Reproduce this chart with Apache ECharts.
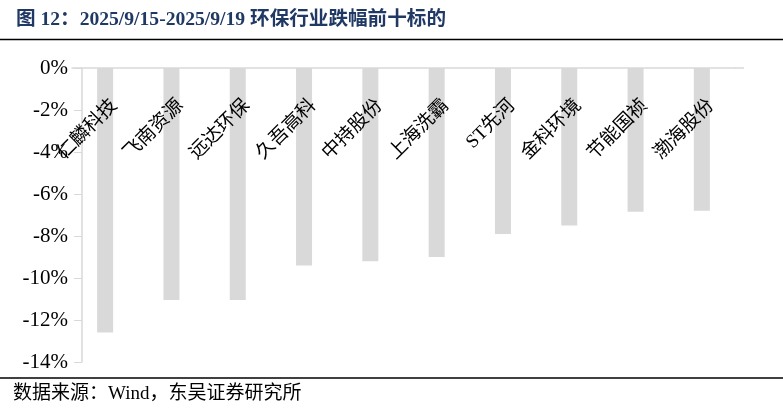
<!DOCTYPE html>
<html>
<head>
<meta charset="utf-8">
<script src="https://cdn.jsdelivr.net/npm/echarts@6/dist/echarts.min.js"></script>
<style>
html,body{margin:0;padding:0;background:#fff;}
#c{width:783px;height:411px;}
</style>
</head>
<body>
<div id="c"></div>
<script>
var categories = ['仁麟科技','飞南资源','远达环保','久吾高科','中持股份','上海洗霸','ST先河','金科环境','节能国祯','渤海股份'];
var changes = [-12.6, -11.05, -11.05, -9.4, -9.2, -9.0, -7.9, -7.5, -6.85, -6.8];
var yTicks = {min: -14, max: 0, interval: 2};
var titleText = '图 12：2025/9/15-2025/9/19 环保行业跌幅前十标的';
var sourceText = '数据来源：Wind，东吴证券研究所';

var serif = '"Liberation Serif", "Noto Sans CJK SC", serif';
var chart = echarts.init(document.getElementById('c'));
chart.setOption({
  animation: false,
  backgroundColor: '#fff',
  grid: {left: 72, right: 48, top: 68, bottom: 49, containLabel: false},
  graphic: [
    {type: 'text', left: 16, top: 10, style: {text: titleText, font: 'bold 19.6px ' + serif, fill: '#1f3864'}},
    {type: 'line', shape: {x1: 0, y1: 39.5, x2: 783, y2: 39.5}, style: {stroke: '#000', lineWidth: 1.5}},
    {type: 'line', shape: {x1: 0, y1: 378, x2: 783, y2: 378}, style: {stroke: '#000', lineWidth: 1.5}},
    {type: 'line', shape: {x1: 735, y1: 68, x2: 744, y2: 68}, style: {stroke: '#d9d9d9', lineWidth: 1.5}},
    {type: 'text', left: 13, top: 385, style: {text: sourceText, font: '19px ' + serif, fill: '#000'}}
  ],
  xAxis: {
    type: 'category',
    data: categories,
    position: 'top',
    z: 5,
    axisLine: {show: true, lineStyle: {color: '#d9d9d9', width: 1.5}},
    axisTick: {show: false},
    axisLabel: {inside: true, rotate: 45, margin: 44, padding: [0, -13, 0, 0], fontSize: 19, color: '#000', fontFamily: serif, interval: 0}
  },
  yAxis: {
    type: 'value',
    offset: -10,
    min: yTicks.min, max: yTicks.max, interval: yTicks.interval,
    z: 5,
    axisLine: {show: true, lineStyle: {color: '#d9d9d9', width: 1.5}},
    axisTick: {show: true, length: 8, lineStyle: {color: '#d9d9d9'}},
    splitLine: {show: false},
    axisLabel: {formatter: '{value}%', fontSize: 21, color: '#000', fontFamily: serif, margin: 14}
  },
  series: [{
    type: 'bar',
    data: changes,
    barWidth: 16,
    z: 1,
    itemStyle: {color: '#d9d9d9'}
  }]
});
</script>
</body>
</html>
